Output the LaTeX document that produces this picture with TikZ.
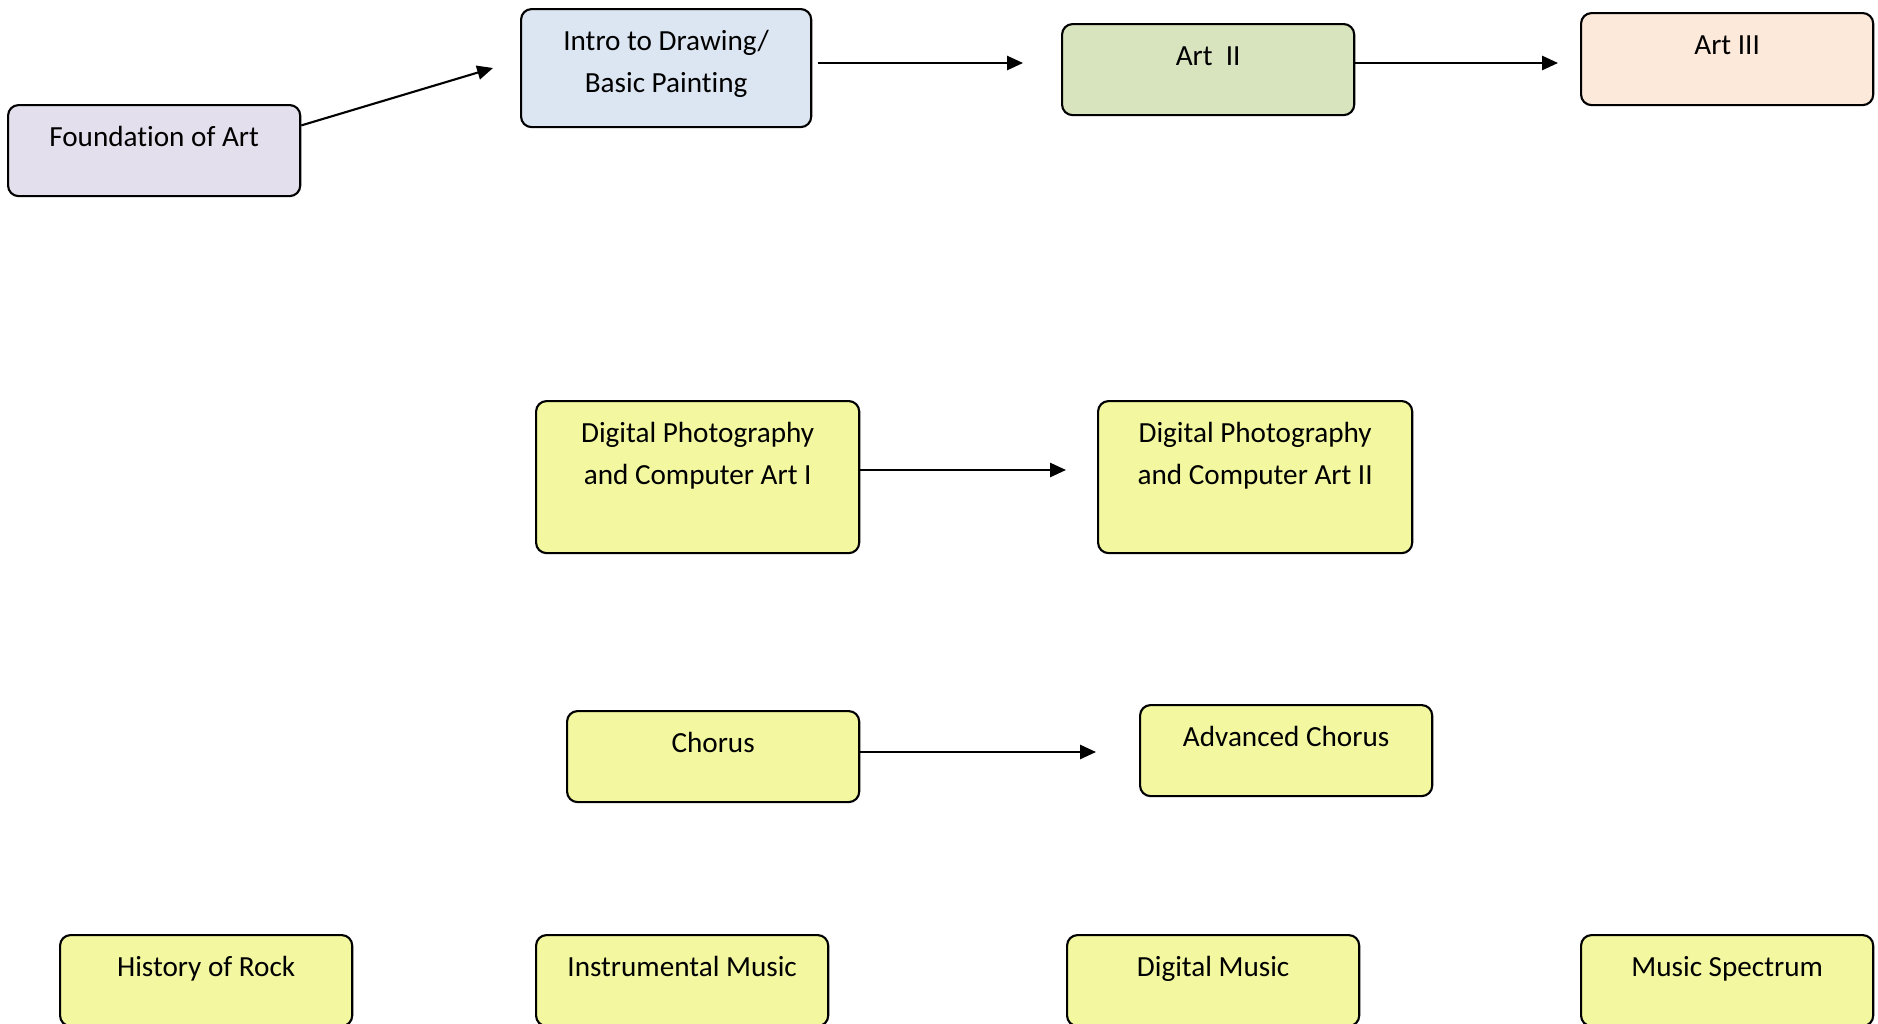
\documentclass[tikz,border=0pt]{standalone}
\usepackage{fontspec}
\setmainfont[Ligatures=NoCommon]{Carlito}
\usepackage{tikz}
\usetikzlibrary{arrows.meta,calc,positioning}
\definecolor{FoundLilac}{RGB}{228,223,236}
\definecolor{IntroBlue}{RGB}{220,230,242}
\definecolor{ArtGreen}{RGB}{215,228,189}
\definecolor{ArtPeach}{RGB}{253,233,217}
\definecolor{CourseYellow}{RGB}{242,247,160}
\tikzset{
  course/.style={draw=black,line width=0.6pt,rounded corners=3pt,anchor=north west,
    inner xsep=0pt,inner ysep=0pt,align=center,minimum width=2.92cm,
    font=\fontsize{8.3pt}{11.9pt}\selectfont,text height=0.41cm,text depth=0.50cm},
  twoline/.style={text height=0.83cm},
  link/.style={line width=0.6pt,-{Triangle[length=4.5pt,width=4pt]}}
}

\begin{document}
\begin{tikzpicture}[x=0.01cm,y=-0.01cm]
\useasboundingbox (0,0) rectangle (1878,1024);
% art track
\node[course,fill=FoundLilac] (fnd) at (7,104){Foundation of Art};
\node[course,twoline,fill=IntroBlue,text depth=0.35cm,minimum width=2.90cm] (intro) at (520,8){Intro to Drawing/\\Basic Painting};
\node[course,fill=ArtGreen] (art2) at (1061,23){Art~~II};
\node[course,fill=ArtPeach,text depth=0.51cm] (art3) at (1580,12){Art III};
% photography
\node[course,twoline,fill=CourseYellow,text depth=0.69cm,minimum width=3.23cm] (dpa) at (535,400){Digital Photography\\and Computer Art I};
\node[course,twoline,fill=CourseYellow,text depth=0.69cm,minimum width=3.14cm] (dpb) at (1097,400){Digital Photography\\and Computer Art II};
% chorus
\node[course,fill=CourseYellow] (chor) at (566,710){Chorus};
\node[course,fill=CourseYellow] (adv) at (1139,704){Advanced Chorus};
% music electives
\node[course,fill=CourseYellow] (rock) at (59,934){History of Rock};
\node[course,fill=CourseYellow] (inst) at (535,934){Instrumental Music};
\node[course,fill=CourseYellow] (dmus) at (1066,934){Digital Music};
\node[course,fill=CourseYellow] (spec) at (1580,934){Music Spectrum};

\coordinate (t1) at (493,68);
\coordinate (t2) at (1023,63);
\coordinate (t3) at (1558,63);
\coordinate (t4) at (1066,470);
\coordinate (t5) at (1096,752);
\draw[link] ($(fnd.north east)!0.23!(fnd.south east)$) -- (t1);
\draw[link] ([xshift=0.06cm]intro.east |- t2) -- (t2);
\draw[link] (art2.east |- t3) -- (t3);
\draw[link] (dpa.east |- t4) -- (t4);
\draw[link] (chor.east |- t5) -- (t5);
\end{tikzpicture}
\end{document}
